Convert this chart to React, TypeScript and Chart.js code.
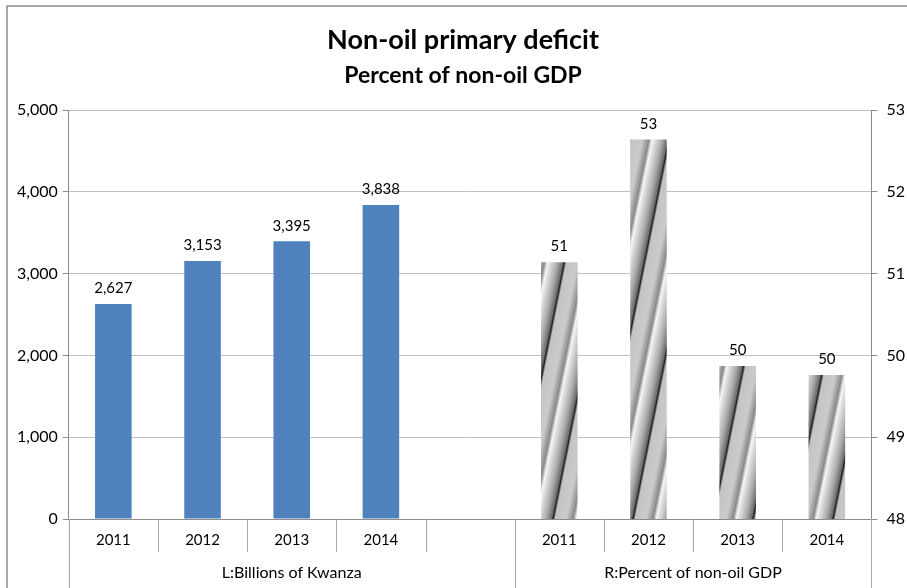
import React, { useEffect, useRef } from "react";
import { Chart, registerables } from "chart.js";
Chart.register(...registerables);

const categories = ["2011", "2012", "2013", "2014", "", "2011", "2012", "2013", "2014"];
const leftValues = [2627, 3153, 3395, 3838, null, null, null, null, null];
const rightValues = [null, null, null, null, null, 51.14, 52.64, 49.87, 49.76];
const groupLabels = ["L:Billions of Kwanza", "R:Percent of non-oil GDP"];
const groupStarts = [0, 5];
const groupEnds = [4, 8];
const titleText = "Non-oil primary deficit";
const subtitleText = "Percent of non-oil GDP";

const FONT = "Lato, 'Open Sans', sans-serif";

function makePattern(): CanvasPattern | string {
  const W = 40;
  const H = 200;
  const c = document.createElement("canvas");
  c.width = W;
  c.height = H;
  const ctx = c.getContext("2d");
  if (!ctx) return "#aaa";
  const skew = -W / H;
  for (let y = 0; y < H; y++) {
    const shift = ((skew * y) % W + W) % W;
    for (let k = -1; k <= 1; k++) {
      const x0 = shift + k * W;
      const g = ctx.createLinearGradient(x0, 0, x0 + W, 0);
      g.addColorStop(0, "#f4f4f4");
      g.addColorStop(0.25, "#a8a8a8");
      g.addColorStop(0.38, "#6a6a6a");
      g.addColorStop(0.42, "#1e1e1e");
      g.addColorStop(0.47, "#c4c4c4");
      g.addColorStop(0.75, "#cacaca");
      g.addColorStop(0.92, "#8a8a8a");
      g.addColorStop(1, "#f4f4f4");
      ctx.fillStyle = g;
      ctx.fillRect(x0, y, W, 1);
    }
  }
  const p = ctx.createPattern(c, "repeat");
  return p || "#aaa";
}

const extrasPlugin = {
  id: "extras",
  afterDraw(chart: any) {
    const ctx = chart.ctx;
    const area = chart.chartArea;
    const x = chart.scales.x;
    const H = chart.height;
    const W = chart.width;
    ctx.save();
    // frame
    ctx.strokeStyle = "#8c8c8c";
    ctx.lineWidth = 1.5;
    ctx.beginPath();
    ctx.moveTo(7, H);
    ctx.lineTo(7, 6);
    ctx.lineTo(W, 6);
    ctx.stroke();

    // category separators
    ctx.strokeStyle = "#a6a6a6";
    ctx.lineWidth = 1;
    const n = categories.length;
    const step = x.getPixelForValue(1) - x.getPixelForValue(0);
    for (let i = 0; i <= n; i++) {
      const px = Math.round(x.getPixelForValue(i) - step / 2) + 0.5;
      const isGroup = i === 0 || i === n || groupStarts.indexOf(i) >= 0;
      ctx.beginPath();
      ctx.moveTo(px, area.bottom);
      ctx.lineTo(px, isGroup ? H : area.bottom + 33);
      ctx.stroke();
    }

    // group labels
    ctx.fillStyle = "#000";
    ctx.font = "16px " + FONT;
    ctx.textAlign = "center";
    ctx.textBaseline = "middle";
    for (let g = 0; g < groupLabels.length; g++) {
      const a = x.getPixelForValue(groupStarts[g]) - step / 2;
      const b = x.getPixelForValue(groupEnds[g]) + step / 2;
      ctx.fillText(groupLabels[g], (a + b) / 2, area.bottom + 54);
    }

    // data labels
    ctx.font = "15px " + FONT;
    chart.data.datasets.forEach((ds: any, di: number) => {
      const meta = chart.getDatasetMeta(di);
      meta.data.forEach((el: any, i: number) => {
        const v = ds.data[i];
        if (v === null || v === undefined) return;
        const txt = di === 0 ? Math.round(v).toLocaleString("en-US") : String(Math.round(v));
        ctx.textBaseline = "bottom";
        ctx.fillText(txt, el.x, el.y - 8);
      });
    });
    ctx.restore();
  },
};

export default function App() {
  const ref = useRef<HTMLCanvasElement | null>(null);
  useEffect(() => {
    if (!ref.current) return;
    document.body.style.margin = "0";
    const pattern = makePattern();
    const chart = new Chart(ref.current, {
      type: "bar",
      data: {
        labels: categories,
        datasets: [
          {
            label: "L:Billions of Kwanza",
            data: leftValues,
            yAxisID: "y",
            backgroundColor: "#4f81bd",
            grouped: false,
            barPercentage: 0.41,
            categoryPercentage: 1,
          } as any,
          {
            label: "R:Percent of non-oil GDP",
            data: rightValues,
            yAxisID: "y1",
            backgroundColor: pattern as any,
            grouped: false,
            barPercentage: 0.41,
            categoryPercentage: 1,
          } as any,
        ],
      },
      options: {
        animation: false,
        responsive: false,
        maintainAspectRatio: false,
        layout: { padding: { left: 12, right: -7, top: 0, bottom: 27 } },
        plugins: {
          legend: { display: false },
          tooltip: { enabled: false },
          title: {
            display: true,
            text: titleText,
            color: "#000",
            font: { family: FONT, size: 27, weight: "bold" },
            padding: { top: 24, bottom: 5 },
          },
          subtitle: {
            display: true,
            text: subtitleText,
            color: "#000",
            font: { family: FONT, size: 23, weight: "bold" },
            padding: { top: 0, bottom: 21 },
          },
        },
        scales: {
          x: {
            grid: { display: false, drawTicks: false },
            border: { display: true, color: "#8c8c8c" },
            ticks: {
              color: "#000",
              font: { family: FONT, size: 15 },
              padding: 12,
              maxRotation: 0,
              autoSkip: false,
            },
          },
          y: {
            position: "left",
            min: 0,
            max: 5000,
            ticks: {
              stepSize: 1000,
              color: "#000",
              font: { family: FONT, size: 16 },
              padding: 5,
              callback: (v: any) => Number(v).toLocaleString("en-US"),
            },
            grid: { color: "#bfbfbf", tickLength: 6, tickColor: "#8c8c8c" },
            border: { display: true, color: "#8c8c8c" },
          },
          y1: {
            position: "right",
            min: 48,
            max: 53,
            ticks: {
              stepSize: 1,
              color: "#000",
              font: { family: FONT, size: 16 },
              padding: 9,
            },
            grid: { drawOnChartArea: false, tickLength: 6, color: "#8c8c8c" },
            border: { display: true, color: "#8c8c8c" },
          },
        },
      },
      plugins: [extrasPlugin],
    });
    return () => chart.destroy();
  }, []);
  return <canvas ref={ref} width={907} height={588} style={{ display: "block" }} />;
}
